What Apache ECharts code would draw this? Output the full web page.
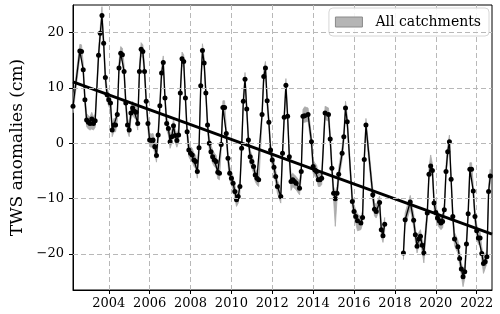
<!DOCTYPE html>
<html><head><meta charset="utf-8">
<script src="https://cdn.jsdelivr.net/npm/echarts@6/dist/echarts.min.js"></script>
<style>html,body{margin:0;padding:0;background:#fff}#c{width:500px;height:314px}</style>
</head><body><div id="c"></div>
<script>
// ---- axis range (monthly categories) ----
const firstMonth = [2002, 4];
const lastMonth = [2022, 10];
const xTickYears = [2004, 2006, 2008, 2010, 2012, 2014, 2016, 2018, 2020, 2022];
const yTicks = [-20, -10, 0, 10, 20];
const yMin = -26.5, yMax = 25;

// ---- GRACE (2002-2017) TWS anomalies, cm ----
const graceTWS = [
['2002-04',6.7],['2002-08',16.7],['2002-09',16.6],['2002-10',13.3],['2002-11',7.9],['2002-12',4.2],
['2003-01',3.8],['2003-02',3.6],['2003-03',4.4],['2003-04',3.6],['2003-05',4.1],['2003-07',15.9],['2003-08',19.9],['2003-09',23.1],['2003-10',18.1],['2003-11',11.9],['2003-12',8.8],
['2004-01',7.9],['2004-02',7.3],['2004-03',2.4],['2004-04',3.3],['2004-05',3.3],['2004-06',5.2],['2004-07',13.6],['2004-08',16.3],['2004-09',16.0],['2004-10',13.0],['2004-11',7.3],['2004-12',3.3],
['2005-01',2.4],['2005-02',5.5],['2005-03',6.4],['2005-04',5.8],['2005-05',5.6],['2005-06',3.6],['2005-07',13.0],['2005-08',17.0],['2005-09',16.6],['2005-10',13.0],['2005-11',7.6],['2005-12',3.6],
['2006-01',0.6],['2006-02',0.5],['2006-03',0.6],['2006-04',-0.6],['2006-05',-2.2],['2006-06',1.5],['2006-07',6.8],['2006-08',12.7],['2006-09',14.6],['2006-10',8.2],['2006-11',3.6],['2006-12',2.7],
['2007-01',0.3],['2007-02',1.2],['2007-03',3.2],['2007-04',1.4],['2007-05',0.5],['2007-06',1.5],['2007-07',9.1],['2007-08',15.3],['2007-09',14.8],['2007-10',8.2],['2007-11',2.1],['2007-12',-1.2],
['2008-01',-1.8],['2008-02',-2.1],['2008-03',-3.0],['2008-04',-3.3],['2008-05',-5.1],['2008-06',-0.8],['2008-07',10.4],['2008-08',16.8],['2008-09',14.5],['2008-10',9.1],['2008-11',3.3],['2008-12',0.0],
['2009-01',-1.5],['2009-02',-2.4],['2009-03',-3.0],['2009-04',-3.3],['2009-05',-5.2],['2009-06',-5.4],['2009-07',-0.2],['2009-08',6.5],['2009-09',6.5],['2009-10',1.8],['2009-11',-2.7],['2009-12',-5.4],
['2010-01',-6.3],['2010-02',-7.2],['2010-03',-8.7],['2010-04',-10.2],['2010-05',-9.6],['2010-06',-7.8],['2010-07',-0.9],['2010-08',7.6],['2010-09',11.6],['2010-10',6.2],['2010-11',0.6],['2010-12',-2.4],
['2011-01',-3.3],['2011-02',-4.2],['2011-03',-5.7],['2011-04',-6.3],['2011-05',-6.6],['2011-07',5.2],['2011-08',12.1],['2011-09',13.6],['2011-10',7.7],['2011-11',3.8],['2011-12',-1.2],
['2012-01',-3.0],['2012-02',-4.3],['2012-03',-6.0],['2012-04',-7.8],['2012-06',-9.6],['2012-07',-1.8],['2012-08',4.7],['2012-09',10.5],['2012-10',4.9],['2012-11',-2.4],['2012-12',-6.9],
['2013-01',-6.6],['2013-02',-6.9],['2013-03',-7.2],['2013-05',-8.1],['2013-06',-5.1],['2013-07',4.9],['2013-08',5.0],['2013-10',5.2],['2013-12',0.3],
['2014-01',-4.2],['2014-02',-4.8],['2014-03',-5.1],['2014-04',-6.6],['2014-05',-6.6],['2014-06',-6.3],['2014-08',5.5],['2014-10',5.2],['2014-11',0.8],['2014-12',-4.5],
['2015-01',-9.0],['2015-02',-10.0],['2015-03',-9.0],['2015-04',-5.6],['2015-06',-1.8],['2015-07',1.2],['2015-08',6.4],['2015-09',3.9],['2015-12',-10.5],
['2016-01',-12.3],['2016-02',-13.2],['2016-03',-14.0],['2016-05',-14.4],['2016-06',-13.4],['2016-07',-2.9],['2016-08',3.3],['2016-12',-9.3],
['2017-01',-11.9],['2017-02',-12.3],['2017-04',-10.7],['2017-05',-15.6],['2017-06',-16.7],['2017-07',-14.6]
];

// ---- GRACE-FO (2018-2022) TWS anomalies, cm ----
const gfoTWS = [
['2018-06',-19.8],['2018-07',-13.8],['2018-10',-10.6],['2018-12',-13.9],
['2019-01',-16.5],['2019-02',-18.6],['2019-03',-17.3],['2019-04',-16.8],['2019-05',-18.4],['2019-06',-19.8],['2019-08',-12.6],['2019-09',-5.6],['2019-10',-4.1],['2019-11',-4.9],['2019-12',-10.8],
['2020-01',-12.5],['2020-02',-13.5],['2020-03',-14.0],['2020-04',-14.4],['2020-05',-14.1],['2020-06',-12.0],['2020-07',-5.1],['2020-08',-1.5],['2020-09',0.3],['2020-10',-6.5],['2020-11',-13.2],['2020-12',-17.3],
['2021-02',-18.7],['2021-03',-20.8],['2021-04',-22.7],['2021-05',-24.1],['2021-06',-23.2],['2021-07',-18.2],['2021-08',-12.7],['2021-09',-4.7],['2021-10',-4.7],['2021-11',-8.6],['2021-12',-13.2],
['2022-01',-15.8],['2022-02',-17.1],['2022-03',-17.1],['2022-04',-19.9],['2022-05',-21.7],['2022-06',-21.4],['2022-07',-20.5],['2022-08',-8.7],['2022-09',-5.9]
];

// ---- linear trend (start / end of axis) ----
const trendTWS = [['2002-04', 11.1], ['2022-10', -16.4]];

// ---- uncertainty half-widths (cm): default and [below, above] exceptions ----
const uncDefault = 1.2;
const uncExceptions = {
  '2003-03': [1.8, 1.2], '2003-09': [1.2, 1.6], '2012-12': [1.6, 1.2], '2013-08': [1.2, 1.6],
  '2015-02': [5.0, 1.2], '2016-03': [1.8, 1.2], '2019-06': [1.8, 1.2],
  '2019-10': [1.2, 2.0], '2021-05': [1.8, 1.2], '2022-05': [1.8, 1.2]
};

// build monthly categories
const months = [];
for (let y = firstMonth[0], m = firstMonth[1]; y < lastMonth[0] || (y === lastMonth[0] && m <= lastMonth[1]); ) {
  months.push(y + '-' + String(m).padStart(2, '0'));
  m++; if (m > 12) { m = 1; y++; }
}
const isYearTick = (idx, val) => {
  const yr = parseInt(val.slice(0, 4), 10);
  return val.slice(5) === '01' && xTickYears.indexOf(yr) >= 0;
};
const unc = d => uncExceptions[d] || [uncDefault, uncDefault];

const SERIF = 'DejaVu Serif';
const bandColor = '#ababab';

// uncertainty band drawn as one polygon through the axis scales
function bandSeries(data, name) {
  return {
    type: 'custom', name: name, data: [[0]], silent: true, z: 1,
    itemStyle: { color: bandColor },
    renderItem: (params, api) => {
      const upper = data.map(([d, v]) => api.coord([months.indexOf(d), v + unc(d)[1]]));
      const lower = data.map(([d, v]) => api.coord([months.indexOf(d), v - unc(d)[0]])).reverse();
      return { type: 'polygon', shape: { points: upper.concat(lower) },
        style: { fill: bandColor, stroke: bandColor, lineWidth: 0.8 } };
    }
  };
}
function tsSeries(data, name) {
  return { type: 'line', name: name, data: data, symbol: 'circle', symbolSize: 5,
    showSymbol: true, showAllSymbol: true,
    itemStyle: { color: '#000' }, lineStyle: { color: '#000', width: 1.3 }, z: 3, silent: true };
}

const chart = echarts.init(document.getElementById('c'), null, { renderer: 'canvas' });
chart.setOption({
  animation: false,
  backgroundColor: '#fff',
  grid: { left: 73, right: 8, top: 5, bottom: 24, show: true, borderColor: '#000', borderWidth: 1, backgroundColor: 'transparent' },
  legend: {
    right: 11, top: 8, orient: 'horizontal',
    data: [{ name: 'All catchments', icon: 'rect',
      itemStyle: { color: '#b5b5b5', borderColor: '#8a8a8a', borderWidth: 1 } }],
    itemWidth: 27, itemHeight: 10,
    textStyle: { fontFamily: SERIF, fontSize: 14, color: '#000', padding: [0, 0, 0, 8] },
    padding: [7, 8, 7, 6],
    borderColor: '#d6d6d6', borderWidth: 1, borderRadius: 4,
    backgroundColor: 'rgba(255,255,255,0.85)', selectedMode: false
  },
  xAxis: {
    type: 'category', data: months, boundaryGap: false,
    axisLine: { onZero: false, lineStyle: { color: '#000', width: 1 } },
    axisTick: { show: true, interval: isYearTick, length: 4, lineStyle: { color: '#000' } },
    axisLabel: { interval: isYearTick, formatter: v => v.slice(0, 4), fontFamily: SERIF, fontSize: 13, color: '#000', margin: 7 },
    splitLine: { show: true, interval: isYearTick, lineStyle: { color: '#b8b8b8', type: [5, 3], width: 1 } }
  },
  yAxis: {
    type: 'value', min: yMin, max: yMax,
    name: 'TWS anomalies (cm)', nameLocation: 'middle', nameGap: 38,
    nameTextStyle: { fontFamily: SERIF, fontSize: 17, color: '#000' },
    axisLine: { show: true, lineStyle: { color: '#000', width: 1 } },
    axisTick: { show: true, customValues: yTicks, length: 4, lineStyle: { color: '#000' } },
    axisLabel: { customValues: yTicks, formatter: v => String(v).replace('-', '\u2212'), fontFamily: SERIF, fontSize: 13, color: '#000', margin: 9 },
    splitLine: { show: false }
  },
  series: [
    { type: 'line', name: 'hgrid', data: [], symbol: 'none', silent: true, z: 0,
      markLine: { silent: true, symbol: 'none', label: { show: false },
        lineStyle: { color: '#b8b8b8', type: [5, 3], width: 1 },
        data: yTicks.map(v => ({ yAxis: v })) } },
    bandSeries(graceTWS, 'All catchments'),
    bandSeries(gfoTWS, 'All catchments FO'),
    tsSeries(graceTWS, 'GRACE'),
    tsSeries(gfoTWS, 'GRACE-FO'),
    { type: 'line', name: 'trend', data: trendTWS, symbol: 'none', lineStyle: { color: '#000', width: 2.8 }, z: 4, silent: true }
  ]
});
</script>
</body></html>
